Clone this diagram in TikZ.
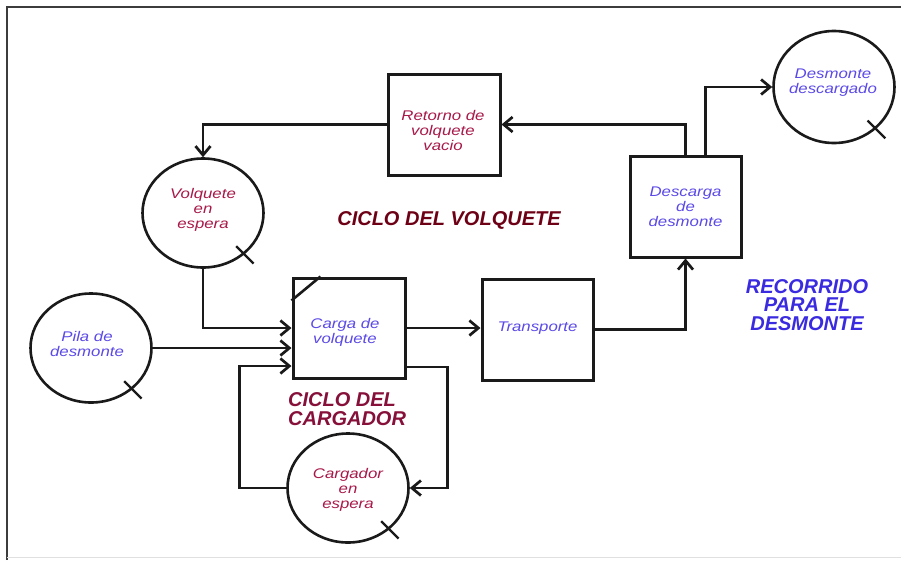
\documentclass[tikz,border=0pt]{standalone}
\usepackage{fontspec}
\setmainfont{Liberation Sans}
\newfontfamily\lblfont[FakeStretch=1.2]{Liberation Sans}
\usetikzlibrary{shapes.geometric,arrows.meta,calc}

\definecolor{crim}{HTML}{A8184A}
\definecolor{lblue}{HTML}{5B4AE6}
\definecolor{maroon}{HTML}{6E0015}
\definecolor{wine}{HTML}{86103A}
\definecolor{rblue}{HTML}{3A2BE0}
\definecolor{ink}{HTML}{1A1A1A}

\tikzset{
  proc/.style={draw=ink, line width=3pt, rectangle, inner sep=0pt},
  queue/.style={draw=ink, line width=2.6pt, ellipse, inner sep=0pt,
                minimum width=121pt, minimum height=109pt},
  flow/.style={draw=ink, line width=2.7pt,
               -{Straight Barb[length=9pt,width=15pt]}},
  link/.style={draw=ink, line width=2.6pt},
  tick/.style={draw=ink, line width=2.2pt},
  lbl/.style={font=\lblfont\itshape\fontsize{14}{15}\selectfont,
              align=center, inner sep=0pt},
  title/.style={font=\bfseries\itshape\fontsize{20}{18.5}\selectfont,
                inner sep=0pt}
}

\begin{document}
\begin{tikzpicture}[x=1pt,y=-1pt]
\useasboundingbox (0,0) rectangle (901,560);
\fill[white] (0,0) rectangle (901,560);

% frame
\draw[line width=2pt, color=ink!85] (7,560) -- (7,7) -- (901,7);
\draw[line width=1pt, color=black!12] (7,557) -- (901,557);

% activities
\node[proc, minimum width=112pt, minimum height=101pt] (ret)  at (444,124.5) {};
\node[proc, minimum width=111pt, minimum height=101pt] (desc) at (685.5,206.5) {};
\node[proc, minimum width=111pt, minimum height=101pt] (trans) at (537.5,329.5) {};
\node[proc, minimum width=112pt, minimum height=100pt] (carga) at (349,328) {};
\draw[link] ([yshift=-24pt]carga.north west) -- ([xshift=29pt]carga.north west);

% queues
\node[queue] (volq) at (203,213) {};
\node[queue] (pila) at (91,348) {};
\node[queue] (carg) at (348,488) {};
\node[queue, minimum height=112pt] (desm) at (834,87) {};
\foreach \q in {volq,pila,carg,desm}
  \draw[tick] ($(\q.center)!0.8!(\q.-45)$) -- ($(\q.center)!1.22!(\q.-45)$);

% labels
\node[lbl, text=crim]  (retT)   at ([xshift=-1pt,yshift=-6pt]ret.center) {Retorno de\\volquete\\vacio};
\node[lbl, text=crim]  (volqT)  at ([yshift=3pt]volq.center) {Volquete\\en\\espera};
\node[lbl, text=lblue] (descT)  at (desc.center) {Descarga\\de\\desmonte};
\node[lbl, text=lblue] (cargaT) at ([xshift=-4pt,yshift=-4pt]carga.center) {Carga de\\volquete};
\node[lbl, text=lblue] (transT) at ([yshift=1pt]trans.center) {Transporte};
\node[lbl, text=lblue] (pilaT)  at ([xshift=-4pt,yshift=4pt]pila.center) {Pila de\\desmonte};
\node[lbl, text=crim]  (cargT)  at ([yshift=-2pt]carg.center) {Cargador\\en\\espera};
\node[lbl, text=lblue] (desmT)  at ([xshift=-1pt,yshift=4pt]desm.center) {Desmonte\\descargado};

\node[title, text=maroon] (cv) at (449,220) {CICLO DEL VOLQUETE};
\node[title, text=wine, align=left, anchor=west] (cc) at (288,409) {CICLO DEL\\CARGADOR};
\node[title, text=rblue, align=center] (rd) at (807,305) {RECORRIDO\\PARA EL\\DESMONTE};

% truck cycle
\draw[flow] (ret.west) -| (volq.north);
\draw[flow] (desc.north) |- (ret.east);
\draw[flow] ([xshift=20pt]desc.north) |- (desm.west);
\draw[flow] (trans.east) -| (desc.south);
\draw[flow] (carga.east) -- (carga.east -| trans.west);
\draw[flow] (volq.south) |- (carga.west);
\draw[flow] (pila.east) -- (pila.east -| carga.west);

% loader cycle
\coordinate (inL) at ([yshift=-38pt]carga.west);
\coordinate (outR) at ([yshift=-39pt]carga.east);
\draw[flow] (carg.west) -- ++(-47,0) |- (inL);
\draw[flow] (outR) -- ++(41,0) |- (carg.east);
\end{tikzpicture}
\end{document}
